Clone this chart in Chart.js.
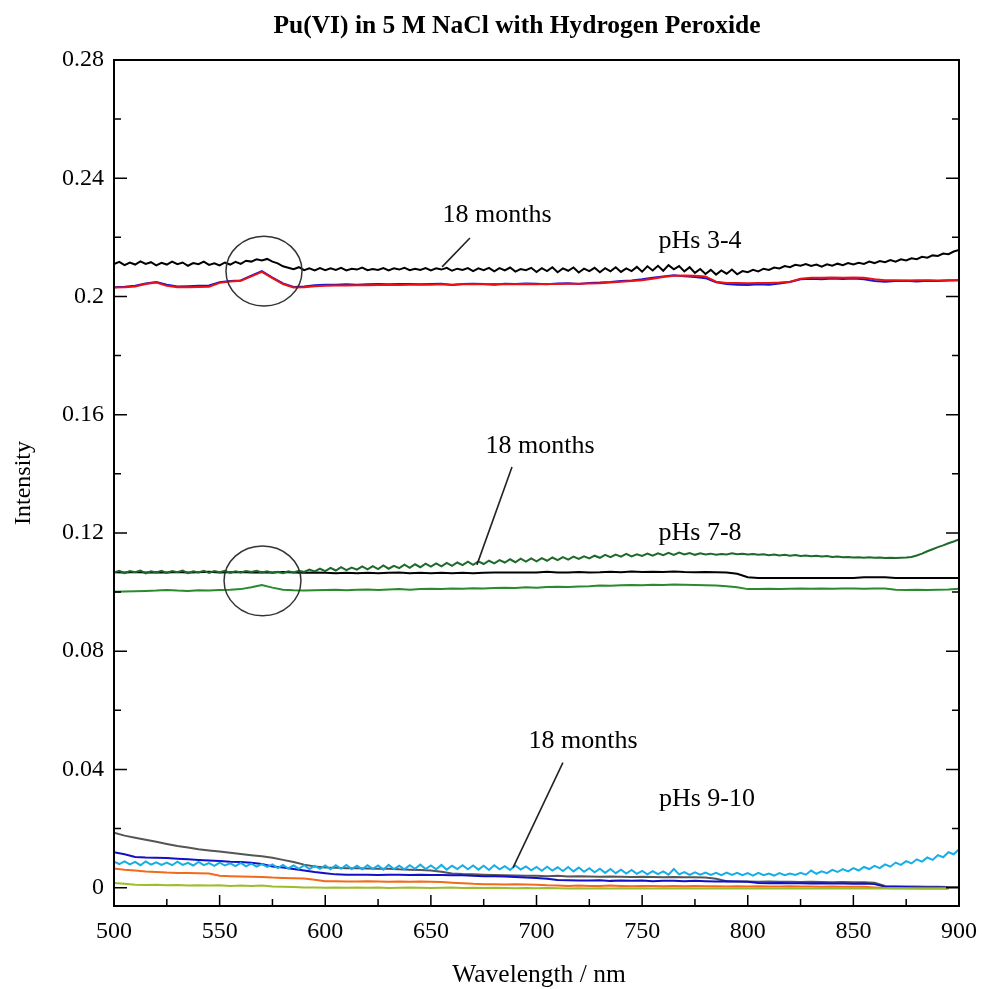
<!DOCTYPE html>
<html>
<head>
<meta charset="utf-8">
<script src="https://cdn.jsdelivr.net/npm/chart.js@4.4.0/dist/chart.umd.min.js"></script>
<style>
  body { margin: 0; background: #fff; }
  canvas { display: block; }
</style>
</head>
<body>
<canvas id="spectra" width="982" height="989"></canvas>
<script>
// wavelength grids (nm)
const wl5 = [500,505,510,515,520,525,530,535,540,545,550,555,560,565,570,575,580,585,590,595,
  600,605,610,615,620,625,630,635,640,645,650,655,660,665,670,675,680,685,690,695,
  700,705,710,715,720,725,730,735,740,745,750,755,760,765,770,775,780,785,790,795,
  800,805,810,815,820,825,830,835,840,845,850,855,860,865,870,875,880,885,890,895,900];
const wl25 = [500,502.5,505,507.5,510,512.5,515,517.5,520,522.5,525,527.5,530,532.5,535,537.5,540,542.5,545,547.5,
  550,552.5,555,557.5,560,562.5,565,567.5,570,572.5,575,577.5,580,582.5,585,587.5,590,592.5,595,597.5,
  600,602.5,605,607.5,610,612.5,615,617.5,620,622.5,625,627.5,630,632.5,635,637.5,640,642.5,645,647.5,
  650,652.5,655,657.5,660,662.5,665,667.5,670,672.5,675,677.5,680,682.5,685,687.5,690,692.5,695,697.5,
  700,702.5,705,707.5,710,712.5,715,717.5,720,722.5,725,727.5,730,732.5,735,737.5,740,742.5,745,747.5,
  750,752.5,755,757.5,760,762.5,765,767.5,770,772.5,775,777.5,780,782.5,785,787.5,790,792.5,795,797.5,
  800,802.5,805,807.5,810,812.5,815,817.5,820,822.5,825,827.5,830,832.5,835,837.5,840,842.5,845,847.5,
  850,852.5,855,857.5,860,862.5,865,867.5,870,872.5,875,877.5,880,882.5,885,887.5,890,892.5,895,897.5,900];

// pHs 3-4
const acid18m = [0.2110,0.2117,0.2106,0.2115,0.2108,0.2119,0.2110,0.2116,0.2105,0.2114,
  0.2108,0.2118,0.2109,0.2115,0.2104,0.2113,0.2109,0.2118,0.2107,0.2112,
  0.2105,0.2115,0.2108,0.2117,0.2110,0.2121,0.2118,0.2126,0.2122,0.2127,
  0.2118,0.2112,0.2102,0.2097,0.2092,0.2099,0.2089,0.2095,0.2088,0.2096,
  0.2089,0.2095,0.2090,0.2097,0.2088,0.2094,0.2091,0.2098,0.2089,0.2093,
  0.2090,0.2096,0.2088,0.2095,0.2091,0.2097,0.2089,0.2094,0.2090,0.2096,
  0.2088,0.2095,0.2091,0.2097,0.2087,0.2094,0.2090,0.2096,0.2086,0.2095,
  0.2089,0.2097,0.2085,0.2096,0.2088,0.2098,0.2084,0.2093,0.2089,0.2097,
  0.2083,0.2096,0.2086,0.2099,0.2082,0.2095,0.2087,0.2098,0.2081,0.2094,
  0.2086,0.2097,0.2082,0.2096,0.2085,0.2099,0.2083,0.2095,0.2086,0.2100,
  0.2084,0.2102,0.2088,0.2104,0.2087,0.2106,0.2092,0.2103,0.2085,0.2099,
  0.2080,0.2093,0.2076,0.2090,0.2074,0.2088,0.2077,0.2091,0.2075,0.2086,
  0.2082,0.2090,0.2085,0.2094,0.2090,0.2098,0.2095,0.2103,0.2099,0.2107,
  0.2104,0.2110,0.2103,0.2108,0.2101,0.2109,0.2104,0.2111,0.2106,0.2113,
  0.2108,0.2114,0.2110,0.2118,0.2113,0.2120,0.2116,0.2123,0.2118,0.2126,
  0.2122,0.2129,0.2126,0.2134,0.2131,0.2139,0.2137,0.2145,0.2143,0.2152,0.2157];
const acidBlue = [0.2031,0.2033,0.2036,0.2044,0.2049,0.2040,0.2034,0.2035,0.2036,0.2037,
  0.2048,0.2052,0.2054,0.2070,0.2086,0.2064,0.2044,0.2032,0.2034,0.2038,
  0.2040,0.2040,0.2041,0.2040,0.2041,0.2042,0.2041,0.2042,0.2042,0.2041,
  0.2042,0.2043,0.2039,0.2042,0.2043,0.2042,0.2040,0.2043,0.2042,0.2044,
  0.2043,0.2041,0.2044,0.2045,0.2042,0.2046,0.2047,0.2049,0.2052,0.2054,
  0.2058,0.2063,0.2068,0.2072,0.2068,0.2066,0.2062,0.2048,0.2042,0.2040,
  0.2039,0.2041,0.2040,0.2044,0.2049,0.2058,0.2060,0.2058,0.2061,0.2059,
  0.2061,0.2058,0.2052,0.2050,0.2052,0.2053,0.2051,0.2053,0.2052,0.2054,0.2055];
const acidRed = [0.2030,0.2031,0.2034,0.2042,0.2047,0.2036,0.2031,0.2031,0.2032,0.2033,
  0.2046,0.2051,0.2053,0.2068,0.2083,0.2062,0.2042,0.2030,0.2031,0.2035,
  0.2036,0.2037,0.2037,0.2038,0.2038,0.2039,0.2039,0.2039,0.2040,0.2040,
  0.2040,0.2041,0.2040,0.2041,0.2041,0.2041,0.2042,0.2041,0.2041,0.2042,
  0.2041,0.2042,0.2042,0.2043,0.2043,0.2044,0.2045,0.2047,0.2050,0.2052,
  0.2055,0.2060,0.2066,0.2070,0.2071,0.2070,0.2068,0.2050,0.2046,0.2046,
  0.2045,0.2046,0.2046,0.2047,0.2050,0.2060,0.2063,0.2063,0.2064,0.2063,
  0.2064,0.2063,0.2058,0.2055,0.2055,0.2054,0.2055,0.2055,0.2054,0.2055,0.2055];

// pHs 7-8
const neut18m = [0.1066,0.1072,0.1064,0.1071,0.1067,0.1073,0.1063,0.1070,0.1066,0.1072,
  0.1065,0.1071,0.1067,0.1073,0.1064,0.1070,0.1066,0.1072,0.1065,0.1071,
  0.1067,0.1072,0.1065,0.1070,0.1066,0.1071,0.1068,0.1072,0.1066,0.1070,
  0.1065,0.1069,0.1064,0.1070,0.1066,0.1072,0.1068,0.1076,0.1070,0.1079,
  0.1071,0.1082,0.1073,0.1084,0.1074,0.1083,0.1076,0.1087,0.1077,0.1088,
  0.1078,0.1090,0.1079,0.1089,0.1081,0.1093,0.1082,0.1094,0.1084,0.1096,
  0.1086,0.1097,0.1087,0.1099,0.1089,0.1100,0.1091,0.1103,0.1092,0.1104,
  0.1095,0.1106,0.1097,0.1108,0.1100,0.1111,0.1101,0.1113,0.1103,0.1114,
  0.1104,0.1115,0.1106,0.1117,0.1108,0.1118,0.1110,0.1120,0.1112,0.1121,
  0.1114,0.1123,0.1116,0.1126,0.1118,0.1127,0.1120,0.1129,0.1121,0.1128,
  0.1122,0.1130,0.1123,0.1131,0.1125,0.1133,0.1126,0.1134,0.1127,0.1132,
  0.1126,0.1131,0.1127,0.1130,0.1126,0.1129,0.1127,0.1131,0.1128,0.1130,
  0.1127,0.1129,0.1126,0.1128,0.1125,0.1127,0.1124,0.1126,0.1123,0.1125,
  0.1122,0.1124,0.1121,0.1123,0.1120,0.1122,0.1119,0.1120,0.1118,0.1119,
  0.1117,0.1118,0.1116,0.1118,0.1116,0.1117,0.1115,0.1116,0.1115,0.1116,
  0.1117,0.1119,0.1124,0.1130,0.1138,0.1145,0.1152,0.1158,0.1165,0.1171,0.1178];
const neutBlack = [0.1067,0.1066,0.1068,0.1066,0.1067,0.1066,0.1068,0.1066,0.1067,0.1069,
  0.1066,0.1067,0.1068,0.1066,0.1067,0.1066,0.1068,0.1066,0.1065,0.1066,
  0.1065,0.1064,0.1065,0.1064,0.1065,0.1064,0.1065,0.1066,0.1064,0.1065,
  0.1064,0.1065,0.1064,0.1065,0.1064,0.1065,0.1066,0.1066,0.1066,0.1066,
  0.1066,0.1069,0.1066,0.1066,0.1068,0.1066,0.1067,0.1069,0.1067,0.1070,
  0.1068,0.1069,0.1068,0.1070,0.1068,0.1067,0.1068,0.1067,0.1066,0.1062,
  0.1050,0.1048,0.1048,0.1048,0.1048,0.1048,0.1048,0.1048,0.1048,0.1048,
  0.1048,0.1050,0.1050,0.1050,0.1048,0.1048,0.1048,0.1048,0.1048,0.1048,0.1048];
const neutGreen = [0.1001,0.1002,0.1003,0.1004,0.1005,0.1007,0.1005,0.1004,0.1006,0.1005,
  0.1007,0.1008,0.1010,0.1016,0.1024,0.1015,0.1008,0.1006,0.1005,0.1006,
  0.1007,0.1008,0.1006,0.1008,0.1009,0.1007,0.1009,0.1010,0.1008,0.1010,
  0.1011,0.1010,0.1012,0.1011,0.1013,0.1012,0.1014,0.1015,0.1014,0.1016,
  0.1015,0.1017,0.1018,0.1017,0.1019,0.1020,0.1022,0.1021,0.1023,0.1024,
  0.1023,0.1025,0.1024,0.1026,0.1025,0.1024,0.1023,0.1022,0.1020,0.1016,
  0.1010,0.1010,0.1011,0.1010,0.1011,0.1012,0.1011,0.1012,0.1011,0.1012,
  0.1012,0.1011,0.1012,0.1012,0.1008,0.1007,0.1008,0.1007,0.1008,0.1009,0.1011];

// pHs 9-10
const basic18m = [0.0088,0.0080,0.0089,0.0079,0.0087,0.0076,0.0089,0.0078,0.0086,0.0077,
  0.0085,0.0076,0.0088,0.0077,0.0084,0.0075,0.0087,0.0076,0.0083,0.0074,
  0.0085,0.0075,0.0082,0.0073,0.0084,0.0072,0.0081,0.0071,0.0080,0.0070,
  0.0079,0.0066,0.0077,0.0065,0.0075,0.0064,0.0076,0.0063,0.0074,0.0064,
  0.0075,0.0062,0.0076,0.0064,0.0077,0.0063,0.0074,0.0062,0.0076,0.0064,
  0.0075,0.0061,0.0077,0.0063,0.0074,0.0062,0.0076,0.0064,0.0078,0.0063,
  0.0075,0.0062,0.0077,0.0061,0.0074,0.0063,0.0076,0.0062,0.0075,0.0061,
  0.0074,0.0060,0.0076,0.0062,0.0073,0.0060,0.0075,0.0061,0.0072,0.0059,
  0.0070,0.0057,0.0071,0.0058,0.0069,0.0056,0.0070,0.0055,0.0068,0.0054,
  0.0066,0.0052,0.0064,0.0050,0.0063,0.0049,0.0061,0.0048,0.0060,0.0047,
  0.0057,0.0045,0.0056,0.0046,0.0055,0.0044,0.0063,0.0045,0.0053,0.0043,
  0.0052,0.0044,0.0051,0.0043,0.0050,0.0042,0.0051,0.0043,0.0050,0.0042,
  0.0049,0.0041,0.0050,0.0042,0.0048,0.0041,0.0049,0.0042,0.0048,0.0043,
  0.0050,0.0044,0.0058,0.0047,0.0055,0.0049,0.0060,0.0053,0.0063,0.0055,
  0.0066,0.0058,0.0070,0.0063,0.0074,0.0066,0.0079,0.0071,0.0085,0.0077,
  0.0090,0.0082,0.0096,0.0088,0.0102,0.0094,0.0110,0.0103,0.0120,0.0113,0.0130];
const basicGray = [0.0186,0.0176,0.0169,0.0162,0.0155,0.0148,0.0141,0.0136,0.0130,0.0126,
  0.0122,0.0118,0.0114,0.0110,0.0106,0.0101,0.0094,0.0087,0.0078,0.0072,
  0.0068,0.0067,0.0066,0.0066,0.0065,0.0064,0.0064,0.0062,0.0061,0.0060,
  0.0058,0.0054,0.0048,0.0046,0.0045,0.0044,0.0043,0.0042,0.0041,0.0040,
  0.0040,0.0039,0.0040,0.0038,0.0039,0.0038,0.0037,0.0038,0.0037,0.0036,
  0.0037,0.0036,0.0035,0.0036,0.0035,0.0035,0.0034,0.0030,0.0022,0.0021,
  0.0021,0.0020,0.0021,0.0020,0.0020,0.0019,0.0020,0.0019,0.0018,0.0019,
  0.0018,0.0018,0.0017,0.0006,0.0005,0.0004,0.0004,0.0003,0.0003,0.0002,0.0002];
const basicBlue = [0.0120,0.0113,0.0104,0.0102,0.0101,0.0100,0.0098,0.0096,0.0094,0.0092,
  0.0090,0.0088,0.0087,0.0084,0.0080,0.0072,0.0068,0.0063,0.0058,0.0053,
  0.0049,0.0045,0.0044,0.0044,0.0044,0.0043,0.0044,0.0044,0.0043,0.0044,
  0.0043,0.0043,0.0042,0.0042,0.0040,0.0039,0.0039,0.0038,0.0036,0.0034,
  0.0033,0.0030,0.0026,0.0025,0.0024,0.0024,0.0025,0.0023,0.0024,0.0023,
  0.0024,0.0022,0.0023,0.0023,0.0022,0.0023,0.0022,0.0021,0.0022,0.0021,
  0.0020,0.0016,0.0015,0.0016,0.0015,0.0015,0.0014,0.0015,0.0014,0.0014,
  0.0013,0.0014,0.0012,0.0003,0.0002,0.0002,0.0001,0.0001,0.0001,0.0000,null];
const basicOrange = [0.0065,0.0061,0.0058,0.0055,0.0053,0.0051,0.0050,0.0050,0.0049,0.0048,
  0.0040,0.0039,0.0038,0.0037,0.0036,0.0034,0.0033,0.0032,0.0031,0.0027,
  0.0022,0.0022,0.0021,0.0021,0.0022,0.0021,0.0020,0.0021,0.0020,0.0021,
  0.0020,0.0019,0.0017,0.0015,0.0013,0.0012,0.0012,0.0011,0.0012,0.0011,
  0.0010,0.0008,0.0007,0.0006,0.0007,0.0006,0.0006,0.0007,0.0006,0.0005,
  0.0006,0.0006,0.0005,0.0006,0.0005,0.0006,0.0005,0.0005,0.0004,0.0005,
  0.0004,0.0005,0.0004,0.0004,0.0005,0.0004,0.0004,0.0003,0.0004,0.0003,
  0.0003,0.0003,0.0001,-0.0001,-0.0002,-0.0002,-0.0003,-0.0003,-0.0003,-0.0003,null];
const basicLime = [0.0016,0.0013,0.0010,0.0009,0.0010,0.0008,0.0009,0.0007,0.0008,0.0007,
  0.0008,0.0006,0.0007,0.0006,0.0007,0.0004,0.0003,0.0002,0.0001,0.0001,
  0.0000,0.0001,0.0000,0.0001,0.0000,0.0001,-0.0001,0.0000,0.0001,0.0000,
  -0.0001,0.0000,0.0001,-0.0001,0.0000,-0.0001,0.0000,-0.0001,-0.0002,-0.0001,
  -0.0002,-0.0001,-0.0002,-0.0003,-0.0002,-0.0003,-0.0002,-0.0003,-0.0002,-0.0003,
  -0.0002,-0.0003,-0.0002,-0.0003,-0.0002,-0.0003,-0.0003,-0.0002,-0.0003,-0.0002,
  -0.0003,-0.0002,-0.0003,-0.0003,-0.0002,-0.0003,-0.0003,-0.0002,-0.0003,-0.0003,
  -0.0002,-0.0003,-0.0003,-0.0003,-0.0002,-0.0003,-0.0003,-0.0003,-0.0003,-0.0003,null];

// axis ticks
const xTickValues = [500, 550, 600, 650, 700, 750, 800, 850, 900];
const xMinorTicks = [525, 575, 625, 675, 725, 775, 825, 875];
const yTickValues = [0, 0.04, 0.08, 0.12, 0.16, 0.2, 0.24, 0.28];
const yMinorTicks = [0.02, 0.06, 0.1, 0.14, 0.18, 0.22, 0.26];

// labels on the plot, in data coordinates
const notes = [
  { text: '18 months', x: 681.3, y: 0.2276 },
  { text: 'pHs 3-4', x: 777.4, y: 0.2188 },
  { text: '18 months', x: 701.7, y: 0.1494 },
  { text: 'pHs 7-8', x: 777.4, y: 0.1200 },
  { text: '18 months', x: 722.0, y: 0.0494 },
  { text: 'pHs 9-10', x: 780.7, y: 0.0301 }
];
const leaders = [
  [668.5, 0.2198, 655.3, 0.2100],
  [688.4, 0.1423, 671.8, 0.1092],
  [712.5, 0.0423, 688.9, 0.0068]
];
const rings = [
  { x: 571.0, y: 0.2086, rx: 18, ry: 0.0118 },
  { x: 570.3, y: 0.1038, rx: 18.2, ry: 0.0118 }
];

const FONT = '"Liberation Serif", "Times New Roman", serif';

function pts(xs, ys) {
  return xs.map((x, i) => ({ x: x, y: ys[i] }));
}
function line(xs, ys, color) {
  return { data: pts(xs, ys), borderColor: color, borderWidth: 2, pointRadius: 0, tension: 0, spanGaps: false };
}

// first dataset is drawn on top
const datasets = [
  line(wl5, acidRed, '#ee1111'),
  line(wl5, acidBlue, '#1515d8'),
  line(wl25, acid18m, '#000000'),
  line(wl25, neut18m, '#1d6a2a'),
  line(wl5, neutBlack, '#000000'),
  line(wl5, neutGreen, '#2a8a2e'),
  line(wl5, basicLime, '#9cbd2c'),
  line(wl5, basicOrange, '#f26a1b'),
  line(wl25, basic18m, '#15aee6'),
  line(wl5, basicBlue, '#1010c8'),
  line(wl5, basicGray, '#555555')
];

const framePlugin = {
  id: 'frame',
  afterDraw(chart) {
    const ctx = chart.ctx;
    const a = chart.chartArea;
    const sx = chart.scales.x, sy = chart.scales.y;
    ctx.save();
    ctx.strokeStyle = '#000';
    ctx.lineWidth = 2;
    ctx.strokeRect(a.left, a.top, a.right - a.left, a.bottom - a.top);

    ctx.lineWidth = 1.5;
    ctx.beginPath();
    xTickValues.forEach(v => { const p = sx.getPixelForValue(v); ctx.moveTo(p, a.bottom); ctx.lineTo(p, a.bottom - 11); });
    xMinorTicks.forEach(v => { const p = sx.getPixelForValue(v); ctx.moveTo(p, a.bottom); ctx.lineTo(p, a.bottom - 7); });
    yTickValues.forEach(v => {
      const p = sy.getPixelForValue(v);
      ctx.moveTo(a.left, p); ctx.lineTo(a.left + 13, p);
      ctx.moveTo(a.right, p); ctx.lineTo(a.right - 13, p);
    });
    yMinorTicks.forEach(v => {
      const p = sy.getPixelForValue(v);
      ctx.moveTo(a.left, p); ctx.lineTo(a.left + 7, p);
      ctx.moveTo(a.right, p); ctx.lineTo(a.right - 7, p);
    });
    ctx.stroke();

    // leader lines
    ctx.lineWidth = 1.6;
    ctx.strokeStyle = '#222';
    leaders.forEach(l => {
      ctx.beginPath();
      ctx.moveTo(sx.getPixelForValue(l[0]), sy.getPixelForValue(l[1]));
      ctx.lineTo(sx.getPixelForValue(l[2]), sy.getPixelForValue(l[3]));
      ctx.stroke();
    });
    // circles
    ctx.strokeStyle = '#333';
    ctx.lineWidth = 1.5;
    rings.forEach(r => {
      const cx = sx.getPixelForValue(r.x), cy = sy.getPixelForValue(r.y);
      const rx = sx.getPixelForValue(r.x + r.rx) - cx;
      const ry = cy - sy.getPixelForValue(r.y + r.ry);
      ctx.beginPath();
      ctx.ellipse(cx, cy, rx, ry, 0, 0, Math.PI * 2);
      ctx.stroke();
    });

    ctx.fillStyle = '#000';
    ctx.font = '26px ' + FONT;
    ctx.textAlign = 'center';
    ctx.textBaseline = 'middle';
    notes.forEach(n => ctx.fillText(n.text, sx.getPixelForValue(n.x), sy.getPixelForValue(n.y)));

    // titles
    ctx.textBaseline = 'alphabetic';
    ctx.font = 'bold 25.5px ' + FONT;
    ctx.fillText('Pu(VI) in 5 M NaCl with Hydrogen Peroxide', 517, 33);
    ctx.font = '25.5px ' + FONT;
    ctx.fillText('Wavelength / nm', 539, 982);
    ctx.font = '24px ' + FONT;
    ctx.translate(30, 483);
    ctx.rotate(-Math.PI / 2);
    ctx.fillText('Intensity', 0, 0);
    ctx.restore();
  }
};

new Chart(document.getElementById('spectra'), {
  type: 'line',
  data: { datasets: datasets },
  options: {
    responsive: false,
    animation: false,
    layout: { padding: { top: 60, right: 23, bottom: 0, left: 0 } },
    plugins: { legend: { display: false }, tooltip: { enabled: false }, title: { display: false } },
    scales: {
      x: {
        type: 'linear',
        min: 500,
        max: 900,
        grid: { display: false },
        border: { display: false },
        afterBuildTicks: s => { s.ticks = xTickValues.map(v => ({ value: v })); },
        afterFit: s => { s.height = 83; s.paddingLeft = 0; s.paddingRight = 0; },
        ticks: { color: '#000', font: { family: FONT, size: 24 }, padding: 3, maxRotation: 0, autoSkip: false }
      },
      y: {
        type: 'linear',
        min: -0.0062,
        max: 0.28,
        grid: { display: false },
        border: { display: false },
        afterBuildTicks: s => { s.ticks = yTickValues.map(v => ({ value: v })); },
        afterFit: s => { s.width = 114; s.paddingTop = 0; s.paddingBottom = 0; },
        ticks: {
          color: '#000', font: { family: FONT, size: 24 }, padding: 2, autoSkip: false,
          callback: v => String(+v.toFixed(2))
        }
      }
    }
  },
  plugins: [framePlugin]
});
</script>
</body>
</html>
